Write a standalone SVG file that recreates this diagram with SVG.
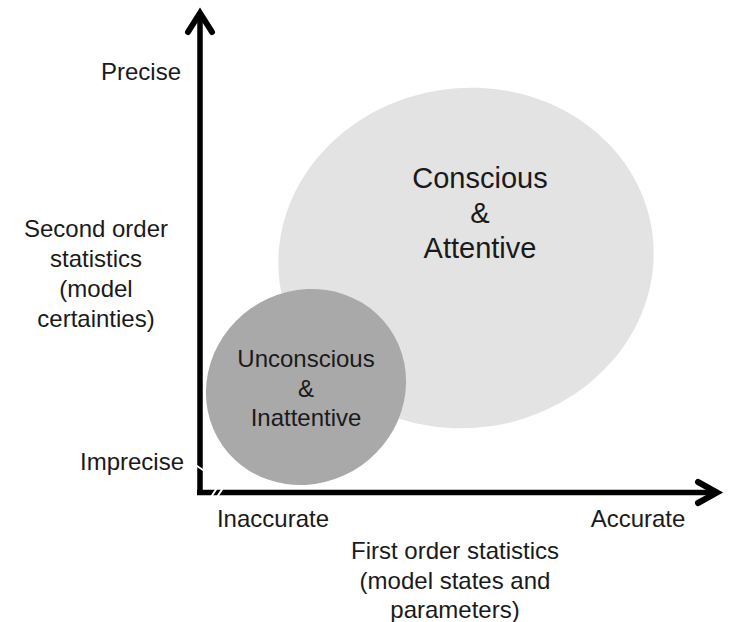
<svg xmlns="http://www.w3.org/2000/svg" width="733" height="622" viewBox="0 0 733 622">
<style>
text{font-family:"Liberation Sans",Arial,sans-serif;fill:#1a1a1a}
.lab{font-size:24px}
.axis{stroke:#000;stroke-width:5.5;fill:none;stroke-linecap:butt}
.head{stroke:#000;stroke-width:6;fill:none;stroke-linecap:round;stroke-linejoin:miter}
.brk{stroke:#fff;stroke-width:2}
</style>
<rect width="733" height="622" fill="#fff"/>
<g id="conscious">
<ellipse cx="466" cy="258" rx="188" ry="170" transform="rotate(-8 466 258)" fill="#e3e3e3"/>
<text x="480" y="188" font-size="29" text-anchor="middle">Conscious</text>
<text x="480" y="223" font-size="29" text-anchor="middle">&amp;</text>
<text x="480" y="258" font-size="29" text-anchor="middle">Attentive</text>
</g>
<g id="unconscious">
<ellipse cx="306" cy="387" rx="102" ry="96" transform="rotate(-35 306 387)" fill="#a9a9a9"/>
<text x="306" y="367" font-size="24" text-anchor="middle">Unconscious</text>
<text x="306" y="397" font-size="24" text-anchor="middle">&amp;</text>
<text x="306" y="426" font-size="24" text-anchor="middle">Inattentive</text>
</g>
<g id="connectors">
<path class="axis" d="M200,14 V495 M197,492.5 H716"/>
<path class="head" d="M188,32 L200,13 L212,32"/>
<path class="head" d="M698,482 L717,492.5 L698,503"/>
<path class="brk" d="M194,464 L206,472 M211,497 L217,488 M217,497 L223,488"/>
</g>
<g id="labels">
<text class="lab" x="181" y="80" text-anchor="end">Precise</text>
<text class="lab" x="96" y="237" text-anchor="middle">Second order</text>
<text class="lab" x="96" y="267" text-anchor="middle">statistics</text>
<text class="lab" x="96" y="297" text-anchor="middle">(model</text>
<text class="lab" x="96" y="327" text-anchor="middle">certainties)</text>
<text class="lab" x="184" y="470" text-anchor="end">Imprecise</text>
<text class="lab" x="273" y="527" text-anchor="middle">Inaccurate</text>
<text class="lab" x="638" y="527" text-anchor="middle">Accurate</text>
<text class="lab" x="455" y="559" text-anchor="middle">First order statistics</text>
<text class="lab" x="455" y="589" text-anchor="middle">(model states and</text>
<text class="lab" x="455" y="618" text-anchor="middle">parameters)</text>
</g>
</svg>
